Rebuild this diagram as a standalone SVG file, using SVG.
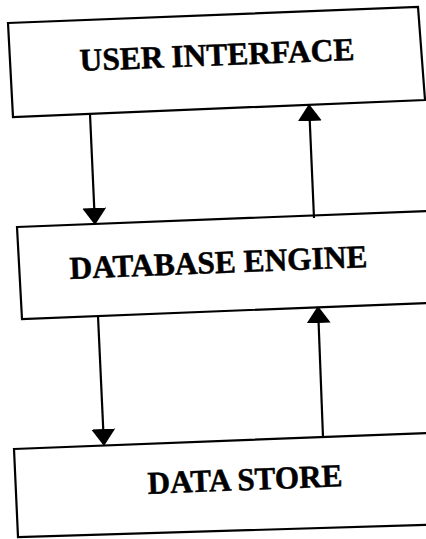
<svg xmlns="http://www.w3.org/2000/svg" width="426" height="539" viewBox="0 0 426 539">
  <style>
    .box { fill: #ffffff; stroke: #000000; stroke-width: 2.2; stroke-linejoin: miter; }
    .label { font-family: "Liberation Serif", "Times New Roman", serif; font-weight: bold; font-size: 32px; fill: #000000; stroke: #000000; stroke-width: 0.5; }
    .link { fill: none; stroke: #000000; stroke-width: 2.2; marker-end: url(#head); }
  </style>
  <defs>
    <marker id="head" markerUnits="userSpaceOnUse" markerWidth="17" markerHeight="24" refX="8" refY="12" orient="auto">
      <path d="M0,0 L17,12 L0,24 z" fill="#000000"/>
    </marker>
  </defs>
  <rect width="426" height="539" fill="#ffffff"/>

  <g id="user-interface">
    <polygon class="box" points="8,23 418,7 425,100 13,117"/>
    <text class="label" x="80" y="71" transform="rotate(-2.3 80 71)" textLength="275" lengthAdjust="spacingAndGlyphs">USER INTERFACE</text>
  </g>

  <g id="database-engine">
    <polygon class="box" points="17,227 440,210.5 440,302.5 22,319"/>
    <text class="label" x="70" y="279" transform="rotate(-2.3 70 279)" textLength="298" lengthAdjust="spacingAndGlyphs">DATABASE ENGINE</text>
  </g>

  <g id="data-store">
    <polygon class="box" points="14,449 440,432.5 440,524.5 18,537"/>
    <text class="label" x="148" y="494" transform="rotate(-2.3 148 494)" textLength="195" lengthAdjust="spacingAndGlyphs">DATA STORE</text>
  </g>

  <g id="connectors">
    <line class="link" x1="90" y1="114" x2="94.6" y2="216"/>
    <line class="link" x1="314" y1="218" x2="309.4" y2="113"/>
    <line class="link" x1="98" y1="316" x2="103.6" y2="437"/>
    <line class="link" x1="323" y1="437" x2="318.3" y2="315"/>
  </g>
</svg>
